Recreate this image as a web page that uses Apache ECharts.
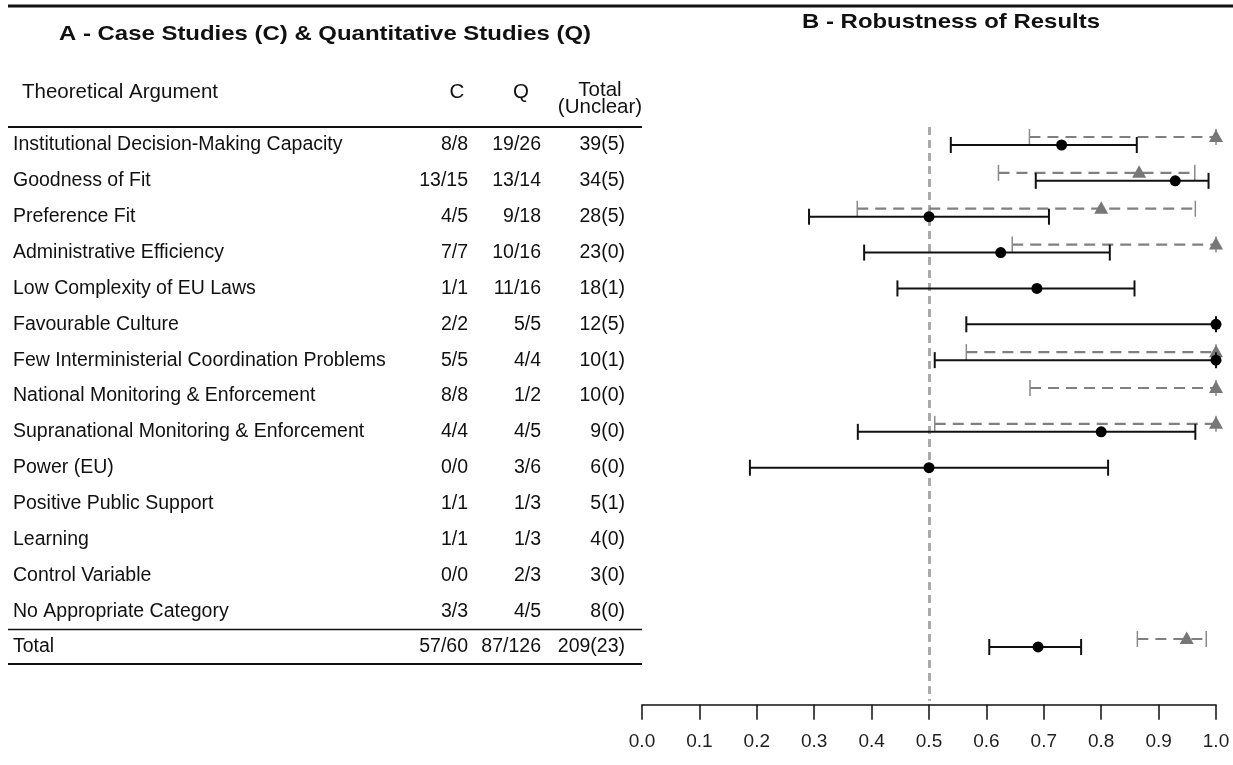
<!DOCTYPE html>
<html><head><meta charset="utf-8">
<script src="https://cdn.jsdelivr.net/npm/echarts@6/dist/echarts.min.js"></script>
<style>html,body{margin:0;padding:0;background:#fff}#c{width:1233px;height:765px}</style>
</head><body><div id="c"></div>
<script>
// ---------- data ----------
const categories = ['Institutional Decision-Making Capacity','Goodness of Fit','Preference Fit','Administrative Efficiency','Low Complexity of EU Laws','Favourable Culture','Few Interministerial Coordination Problems','National Monitoring & Enforcement','Supranational Monitoring & Enforcement','Power (EU)','Positive Public Support','Learning','Control Variable','No Appropriate Category','Total'];
const caseCounts  = ['8/8','13/15','4/5','7/7','1/1','2/2','5/5','8/8','4/4','0/0','1/1','1/1','0/0','3/3','57/60'];
const quantCounts = ['19/26','13/14','9/18','10/16','11/16','5/5','4/4','1/2','4/5','3/6','1/3','1/3','2/3','4/5','87/126'];
const totals      = ['39(5)','34(5)','28(5)','23(0)','18(1)','12(5)','10(1)','10(0)','9(0)','6(0)','5(1)','4(0)','3(0)','8(0)','209(23)'];
const headers = ['Theoretical Argument','C','Q','Total','(Unclear)'];
const titleA = 'A - Case Studies (C) & Quantitative Studies (Q)';
const titleB = 'B - Robustness of Results';
// Quantitative studies (black, circle)
const quantPoint = [0.731,0.929,0.500,0.625,0.688,1.000,1.000,null,0.800,0.500,null,null,null,null,0.690];
const quantLow   = [0.538,0.686,0.291,0.387,0.445,0.565,0.510,null,0.376,0.188,null,null,null,null,0.605];
const quantHigh  = [0.862,0.987,0.709,0.815,0.858,1.000,1.000,null,0.964,0.812,null,null,null,null,0.765];
// Case studies (grey, triangle, dashed)
const casePoint = [1.000,0.866,0.800,1.000,null,null,1.000,1.000,1.000,null,null,null,null,null,0.949];
const caseLow   = [0.675,0.621,0.375,0.645,null,null,0.565,0.676,0.510,null,null,null,null,null,0.863];
const caseHigh  = [1.000,0.963,0.964,1.000,null,null,1.000,1.000,1.000,null,null,null,null,null,0.983];
const refValue = 0.5;

// ---------- chart ----------
const FONT = '"Liberation Sans", Arial, Helvetica, sans-serif';
const TXT = '#111';
const chart = echarts.init(document.getElementById('c'), null, {renderer:'canvas'});

function rows(lo, pt, hi){
  return categories.map((_, i) => [i, lo[i], pt[i], hi[i]]).filter(d => d[2] != null);
}
function tableAxis(data, align, margin){
  return {
    type:'category', gridIndex:0, position:'left', inverse:true,
    data: data.concat(['']),
    axisLine:{show:false}, axisTick:{show:false}, splitLine:{show:false},
    axisLabel:{show:true, interval:0, align:align, margin:margin,
      fontFamily:FONT, fontSize:19.5, color:TXT}
  };
}
function renderBar(kind){
  return function(params, api){
    const row = api.value(0);
    const pLo = api.coord([api.value(1), row]);
    const pPt = api.coord([api.value(2), row]);
    const pHi = api.coord([api.value(3), row]);
    const children = [];
    if (kind === 'quant'){
      const y = pLo[1];
      const st = {stroke:'#111', lineWidth:2};
      children.push({type:'line', shape:{x1:pLo[0], y1:y, x2:pHi[0], y2:y}, style:st});
      children.push({type:'line', shape:{x1:pLo[0], y1:y-8, x2:pLo[0], y2:y+8}, style:st});
      children.push({type:'line', shape:{x1:pHi[0], y1:y-8, x2:pHi[0], y2:y+8}, style:st});
      children.push({type:'circle', shape:{cx:pPt[0], cy:y, r:5.5}, style:{fill:'#000'}});
    } else {
      const y = pLo[1] - 8;
      children.push({type:'line', shape:{x1:pLo[0], y1:y, x2:pHi[0], y2:y},
        style:{stroke:'#808080', lineWidth:2.2, lineDash:[11,7]}});
      const cs = {stroke:'#8a8a8a', lineWidth:1.5};
      children.push({type:'line', shape:{x1:pLo[0], y1:y-8, x2:pLo[0], y2:y+8}, style:cs});
      children.push({type:'line', shape:{x1:pHi[0], y1:y-8, x2:pHi[0], y2:y+8}, style:cs});
      children.push({type:'polygon', shape:{points:[[pPt[0], y-7.5],[pPt[0]-7, y+5],[pPt[0]+7, y+5]]},
        style:{fill:'#777'}});
    }
    return {type:'group', children};
  };
}
function txt(x, y, text, size, align, extra){
  return Object.assign({type:'text', x:x, y:y, style:{text:text, fontFamily:FONT, fontSize:size,
    fill:TXT, textVerticalAlign:'middle', textAlign:align}}, extra || {});
}

const option = {
  backgroundColor:'#fff',
  animation:false,
  grid:{left:642, right:17, top:127.07, height:573.7, outerBoundsMode:'none', containLabel:false},
  xAxis:{
    type:'value', min:0, max:1, interval:0.1, offset:4,
    axisLine:{show:true, lineStyle:{color:'#111', width:1.5}},
    axisTick:{show:true, inside:false, length:15, lineStyle:{color:'#111', width:1.5}},
    splitLine:{show:false},
    axisLabel:{margin:27, fontFamily:FONT, fontSize:19, color:'#1e1e1e',
      formatter:v => v.toFixed(1)}
  },
  yAxis:[
    tableAxis(categories, 'left', 629),
    tableAxis(caseCounts, 'right', 174),
    tableAxis(quantCounts, 'right', 101),
    tableAxis(totals, 'right', 17)
  ],
  graphic:[
    {type:'line', shape:{x1:8, y1:6, x2:1233, y2:6}, style:{stroke:'#111', lineWidth:3}},
    {type:'line', shape:{x1:8, y1:127, x2:642, y2:127}, style:{stroke:'#111', lineWidth:2}},
    {type:'line', shape:{x1:8, y1:629.5, x2:642, y2:629.5}, style:{stroke:'#111', lineWidth:1.5}},
    {type:'line', shape:{x1:8, y1:664, x2:642, y2:664}, style:{stroke:'#111', lineWidth:2}},
    {type:'text', x:325, y:34, scaleX:1.14, style:{text:titleA, fontFamily:FONT, fontSize:21, fontWeight:'bold',
      fill:'#111', textVerticalAlign:'middle', textAlign:'center'}},
    {type:'text', x:951, y:22, scaleX:1.14, style:{text:titleB, fontFamily:FONT, fontSize:21, fontWeight:'bold',
      fill:'#111', textVerticalAlign:'middle', textAlign:'center'}},
    txt(22, 92, headers[0], 20.5, 'left'),
    txt(457, 92, headers[1], 20.5, 'center'),
    txt(521, 92, headers[2], 20.5, 'center'),
    txt(600, 90, headers[3], 20.5, 'center'),
    txt(600, 107, headers[4], 20.5, 'center')
  ],
  series:[
    {type:'custom', name:'Case studies', xAxisIndex:0, yAxisIndex:0,
     renderItem:renderBar('case'), encode:{x:[1,2,3], y:0},
     data:rows(caseLow, casePoint, caseHigh), z:3,
     markLine:{silent:true, symbol:'none', z:1, label:{show:false},
       lineStyle:{color:'#aaaaaa', width:3, type:[8,5]},
       data:[{xAxis:refValue}]}},
    {type:'custom', name:'Quantitative studies', xAxisIndex:0, yAxisIndex:0,
     renderItem:renderBar('quant'), encode:{x:[1,2,3], y:0},
     data:rows(quantLow, quantPoint, quantHigh), z:4}
  ]
};
chart.setOption(option);
</script></body></html>
